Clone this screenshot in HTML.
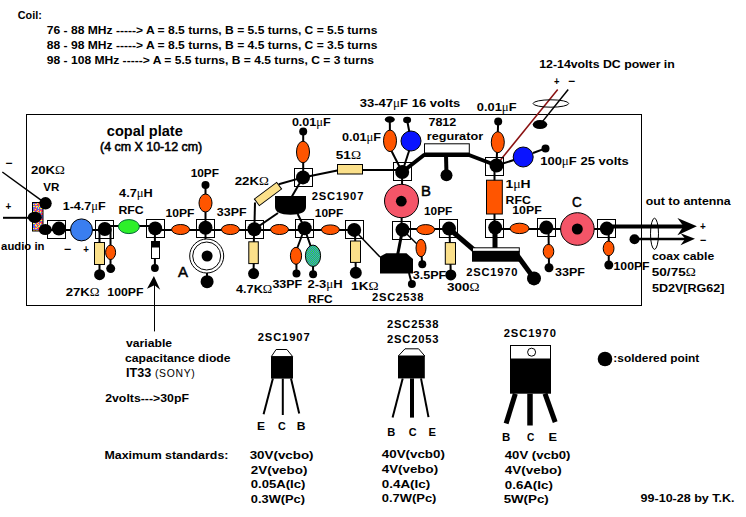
<!DOCTYPE html>
<html><head><meta charset="utf-8"><style>
html,body{margin:0;padding:0;background:#fff;width:746px;height:517px;overflow:hidden}
svg{display:block}
text{font-family:"Liberation Sans",sans-serif;fill:#000}
</style></head><body>
<svg width="746" height="517" viewBox="0 0 746 517">
<rect width="746" height="517" fill="#fff"/>
<text x="17.80" y="19.00" font-size="11.60" font-weight="bold" textLength="24.01" lengthAdjust="spacingAndGlyphs">Coil:</text>
<text x="46.80" y="33.80" font-size="11.60" font-weight="bold" textLength="330.64" lengthAdjust="spacingAndGlyphs">76 - 88 MHz -----&gt; A = 8.5 turns, B = 5.5 turns, C = 5.5 turns</text>
<text x="46.80" y="48.70" font-size="11.60" font-weight="bold" textLength="330.64" lengthAdjust="spacingAndGlyphs">88 - 98 MHz -----&gt; A = 8.5 turns, B = 4.5 turns, C = 3.5 turns</text>
<text x="46.80" y="63.60" font-size="11.60" font-weight="bold" textLength="327.20" lengthAdjust="spacingAndGlyphs">98 - 108 MHz -----&gt; A = 5.5 turns, B = 4.5 turns, C = 3 turns</text>
<rect x="26.5" y="114.5" width="615.0" height="191.0" fill="none" stroke="#000" stroke-width="1"/>
<line x1="2.3" y1="172" x2="45.5" y2="203.3" stroke="#000" stroke-width="1.5"/>
<line x1="3" y1="217.8" x2="35" y2="217.8" stroke="#000" stroke-width="2"/>
<line x1="45" y1="230" x2="104.8" y2="230" stroke="#000" stroke-width="2"/>
<line x1="104.8" y1="226" x2="155" y2="226" stroke="#000" stroke-width="2"/>
<line x1="155" y1="230" x2="354.2" y2="230" stroke="#000" stroke-width="2"/>
<line x1="402" y1="229" x2="449" y2="229" stroke="#000" stroke-width="2"/>
<line x1="495" y1="229" x2="606" y2="229" stroke="#000" stroke-width="2"/>
<line x1="99.5" y1="229" x2="99.5" y2="274.7" stroke="#000" stroke-width="2"/>
<line x1="110.5" y1="229" x2="110.5" y2="268.6" stroke="#000" stroke-width="2"/>
<line x1="154.9" y1="228" x2="154.9" y2="268" stroke="#000" stroke-width="2"/>
<line x1="205.5" y1="185" x2="205.5" y2="256" stroke="#000" stroke-width="2"/>
<line x1="207" y1="256" x2="207" y2="281.7" stroke="#000" stroke-width="2"/>
<line x1="254" y1="229" x2="253.6" y2="273.6" stroke="#000" stroke-width="2"/>
<line x1="255" y1="202.5" x2="254.4" y2="228" stroke="#000" stroke-width="2"/>
<line x1="278.7" y1="184.2" x2="303" y2="177.4" stroke="#000" stroke-width="2"/>
<line x1="303" y1="177.4" x2="337.3" y2="170.5" stroke="#000" stroke-width="2"/>
<line x1="362.7" y1="170" x2="402.2" y2="170" stroke="#000" stroke-width="2"/>
<line x1="291.6" y1="197" x2="303" y2="177.4" stroke="#000" stroke-width="2"/>
<line x1="278" y1="213" x2="254.4" y2="229.3" stroke="#000" stroke-width="2"/>
<line x1="297.7" y1="214" x2="304.7" y2="228.2" stroke="#000" stroke-width="2"/>
<line x1="303.2" y1="131.4" x2="303.2" y2="177.4" stroke="#000" stroke-width="2"/>
<line x1="304" y1="230" x2="296.5" y2="250" stroke="#000" stroke-width="2"/>
<line x1="305" y1="230" x2="311" y2="247" stroke="#000" stroke-width="2"/>
<line x1="296.3" y1="255" x2="296.5" y2="273.6" stroke="#000" stroke-width="2"/>
<line x1="313" y1="256" x2="313.1" y2="274.2" stroke="#000" stroke-width="2"/>
<line x1="355" y1="229.9" x2="355.8" y2="272.7" stroke="#000" stroke-width="2"/>
<line x1="354.2" y1="229.9" x2="380" y2="257" stroke="#000" stroke-width="1.5"/>
<line x1="389.8" y1="119.5" x2="390" y2="140" stroke="#000" stroke-width="2"/>
<line x1="407.1" y1="120" x2="411" y2="141" stroke="#000" stroke-width="2"/>
<line x1="391" y1="150" x2="402.2" y2="172" stroke="#000" stroke-width="2"/>
<line x1="411" y1="145" x2="402.2" y2="172" stroke="#000" stroke-width="2"/>
<line x1="402.2" y1="172" x2="401.5" y2="229.7" stroke="#000" stroke-width="2"/>
<line x1="402.5" y1="229.7" x2="397.6" y2="255" stroke="#000" stroke-width="3"/>
<line x1="409" y1="273" x2="411.9" y2="284.1" stroke="#000" stroke-width="2"/>
<line x1="402.5" y1="229.7" x2="421" y2="248" stroke="#000" stroke-width="1.5"/>
<line x1="421" y1="250" x2="422.3" y2="264.2" stroke="#000" stroke-width="2"/>
<line x1="449.5" y1="229" x2="450.8" y2="274.9" stroke="#000" stroke-width="2"/>
<polyline points="402.2,172 424,155 469,155 496.5,165.5" fill="none" stroke="#000" stroke-width="4" stroke-linejoin="round"/>
<line x1="446" y1="155" x2="446.5" y2="175.3" stroke="#000" stroke-width="4"/>
<line x1="498.2" y1="121.5" x2="496.5" y2="165.5" stroke="#000" stroke-width="2"/>
<line x1="494.5" y1="165.5" x2="494.5" y2="227.6" stroke="#000" stroke-width="2"/>
<line x1="557.7" y1="89.5" x2="500.5" y2="160" stroke="#8a1111" stroke-width="1.5"/>
<line x1="568.2" y1="89.5" x2="540" y2="124.6" stroke="#000" stroke-width="1.5"/>
<line x1="496.5" y1="165.5" x2="523.2" y2="157" stroke="#000" stroke-width="2"/>
<line x1="533" y1="153" x2="545.5" y2="148.4" stroke="#000" stroke-width="2"/>
<line x1="495" y1="228" x2="495" y2="249" stroke="#000" stroke-width="5"/>
<polyline points="449,228.6 474,250" fill="none" stroke="#000" stroke-width="5" stroke-linejoin="round"/>
<polyline points="517,255 534,278.4" fill="none" stroke="#000" stroke-width="5" stroke-linejoin="round"/>
<line x1="548.5" y1="228" x2="549" y2="267.7" stroke="#000" stroke-width="2"/>
<line x1="608.7" y1="228" x2="608.8" y2="265" stroke="#000" stroke-width="2"/>
<line x1="606" y1="226.5" x2="685" y2="226.5" stroke="#000" stroke-width="4"/>
<line x1="634" y1="239" x2="686" y2="239" stroke="#000" stroke-width="2.5"/>
<polygon points="696.9,226.3 677.4,218.1 683.5,226.3 677.4,235.2" fill="#000" stroke="none" stroke-width="1"/>
<polygon points="695,238.8 680.5,233.2 685.2,238.8 680.5,245.3" fill="#000" stroke="none" stroke-width="1"/>
<rect x="47.5" y="220.5" width="18.0" height="18.0" fill="none" stroke="#000" stroke-width="1"/>
<rect x="95.5" y="220.5" width="18.0" height="18.0" fill="none" stroke="#000" stroke-width="1"/>
<rect x="146.5" y="219.5" width="18.0" height="18.0" fill="none" stroke="#000" stroke-width="1"/>
<rect x="196.5" y="219.5" width="18.0" height="18.0" fill="none" stroke="#000" stroke-width="1"/>
<rect x="245.5" y="220.5" width="18.0" height="18.0" fill="none" stroke="#000" stroke-width="1"/>
<rect x="294.5" y="168.5" width="18.0" height="18.0" fill="none" stroke="#000" stroke-width="1"/>
<rect x="295.5" y="219.5" width="18.0" height="18.0" fill="none" stroke="#000" stroke-width="1"/>
<rect x="393.5" y="162.5" width="18.0" height="18.0" fill="none" stroke="#000" stroke-width="1"/>
<rect x="485.5" y="157.5" width="18.0" height="18.0" fill="none" stroke="#000" stroke-width="1"/>
<rect x="485.5" y="219.5" width="18.0" height="18.0" fill="none" stroke="#000" stroke-width="1"/>
<rect x="537.5" y="218.5" width="18.0" height="18.0" fill="none" stroke="#000" stroke-width="1"/>
<rect x="439.5" y="219.5" width="18.0" height="18.0" fill="none" stroke="#000" stroke-width="1"/>
<rect x="392.5" y="221.5" width="18.0" height="18.0" fill="none" stroke="#000" stroke-width="1"/>
<rect x="597.5" y="219.5" width="18.0" height="18.0" fill="none" stroke="#000" stroke-width="1"/>
<rect x="345.5" y="220.5" width="18.0" height="18.0" fill="none" stroke="#000" stroke-width="1"/>
<defs><pattern id="spk" width="12" height="12" patternUnits="userSpaceOnUse"><rect x="0" y="0" width="1" height="1" fill="#ffe84a"/><rect x="1" y="0" width="1" height="1" fill="#ff3a60"/><rect x="2" y="0" width="1" height="1" fill="#ff3a60"/><rect x="3" y="0" width="1" height="1" fill="#ffe84a"/><rect x="4" y="0" width="1" height="1" fill="#3f6fff"/><rect x="5" y="0" width="1" height="1" fill="#ff3a60"/><rect x="6" y="0" width="1" height="1" fill="#3f6fff"/><rect x="7" y="0" width="1" height="1" fill="#ff3a60"/><rect x="8" y="0" width="1" height="1" fill="#ff3a60"/><rect x="9" y="0" width="1" height="1" fill="#ffe84a"/><rect x="10" y="0" width="1" height="1" fill="#ff3a60"/><rect x="11" y="0" width="1" height="1" fill="#ffe84a"/><rect x="0" y="1" width="1" height="1" fill="#3f6fff"/><rect x="1" y="1" width="1" height="1" fill="#3f6fff"/><rect x="2" y="1" width="1" height="1" fill="#ff3a60"/><rect x="3" y="1" width="1" height="1" fill="#ffe84a"/><rect x="4" y="1" width="1" height="1" fill="#ffe84a"/><rect x="5" y="1" width="1" height="1" fill="#ff3a60"/><rect x="6" y="1" width="1" height="1" fill="#3f6fff"/><rect x="7" y="1" width="1" height="1" fill="#ff3a60"/><rect x="8" y="1" width="1" height="1" fill="#ff3a60"/><rect x="9" y="1" width="1" height="1" fill="#3f6fff"/><rect x="10" y="1" width="1" height="1" fill="#3f6fff"/><rect x="11" y="1" width="1" height="1" fill="#ff3a60"/><rect x="0" y="2" width="1" height="1" fill="#ffe84a"/><rect x="1" y="2" width="1" height="1" fill="#ffe84a"/><rect x="2" y="2" width="1" height="1" fill="#ff3a60"/><rect x="3" y="2" width="1" height="1" fill="#ffe84a"/><rect x="4" y="2" width="1" height="1" fill="#ff3a60"/><rect x="5" y="2" width="1" height="1" fill="#3f6fff"/><rect x="6" y="2" width="1" height="1" fill="#ff3a60"/><rect x="7" y="2" width="1" height="1" fill="#ffe84a"/><rect x="8" y="2" width="1" height="1" fill="#ff3a60"/><rect x="9" y="2" width="1" height="1" fill="#ffe84a"/><rect x="10" y="2" width="1" height="1" fill="#ffe84a"/><rect x="11" y="2" width="1" height="1" fill="#ff3a60"/><rect x="0" y="3" width="1" height="1" fill="#ffe84a"/><rect x="1" y="3" width="1" height="1" fill="#3f6fff"/><rect x="2" y="3" width="1" height="1" fill="#ffe84a"/><rect x="3" y="3" width="1" height="1" fill="#3f6fff"/><rect x="4" y="3" width="1" height="1" fill="#3f6fff"/><rect x="5" y="3" width="1" height="1" fill="#ff3a60"/><rect x="6" y="3" width="1" height="1" fill="#ff3a60"/><rect x="7" y="3" width="1" height="1" fill="#3f6fff"/><rect x="8" y="3" width="1" height="1" fill="#ff3a60"/><rect x="9" y="3" width="1" height="1" fill="#3f6fff"/><rect x="10" y="3" width="1" height="1" fill="#3f6fff"/><rect x="11" y="3" width="1" height="1" fill="#ff3a60"/><rect x="0" y="4" width="1" height="1" fill="#ff3a60"/><rect x="1" y="4" width="1" height="1" fill="#3f6fff"/><rect x="2" y="4" width="1" height="1" fill="#ffe84a"/><rect x="3" y="4" width="1" height="1" fill="#3f6fff"/><rect x="4" y="4" width="1" height="1" fill="#ffe84a"/><rect x="5" y="4" width="1" height="1" fill="#ffe84a"/><rect x="6" y="4" width="1" height="1" fill="#ffe84a"/><rect x="7" y="4" width="1" height="1" fill="#3f6fff"/><rect x="8" y="4" width="1" height="1" fill="#ffe84a"/><rect x="9" y="4" width="1" height="1" fill="#3f6fff"/><rect x="10" y="4" width="1" height="1" fill="#ff3a60"/><rect x="11" y="4" width="1" height="1" fill="#3f6fff"/><rect x="0" y="5" width="1" height="1" fill="#ff3a60"/><rect x="1" y="5" width="1" height="1" fill="#3f6fff"/><rect x="2" y="5" width="1" height="1" fill="#3f6fff"/><rect x="3" y="5" width="1" height="1" fill="#ff3a60"/><rect x="4" y="5" width="1" height="1" fill="#3f6fff"/><rect x="5" y="5" width="1" height="1" fill="#ff3a60"/><rect x="6" y="5" width="1" height="1" fill="#3f6fff"/><rect x="7" y="5" width="1" height="1" fill="#ff3a60"/><rect x="8" y="5" width="1" height="1" fill="#ff3a60"/><rect x="9" y="5" width="1" height="1" fill="#3f6fff"/><rect x="10" y="5" width="1" height="1" fill="#ff3a60"/><rect x="11" y="5" width="1" height="1" fill="#ffe84a"/><rect x="0" y="6" width="1" height="1" fill="#3f6fff"/><rect x="1" y="6" width="1" height="1" fill="#ff3a60"/><rect x="2" y="6" width="1" height="1" fill="#ffe84a"/><rect x="3" y="6" width="1" height="1" fill="#3f6fff"/><rect x="4" y="6" width="1" height="1" fill="#ff3a60"/><rect x="5" y="6" width="1" height="1" fill="#ff3a60"/><rect x="6" y="6" width="1" height="1" fill="#ff3a60"/><rect x="7" y="6" width="1" height="1" fill="#ffe84a"/><rect x="8" y="6" width="1" height="1" fill="#ff3a60"/><rect x="9" y="6" width="1" height="1" fill="#3f6fff"/><rect x="10" y="6" width="1" height="1" fill="#ff3a60"/><rect x="11" y="6" width="1" height="1" fill="#ff3a60"/><rect x="0" y="7" width="1" height="1" fill="#ff3a60"/><rect x="1" y="7" width="1" height="1" fill="#ffe84a"/><rect x="2" y="7" width="1" height="1" fill="#ff3a60"/><rect x="3" y="7" width="1" height="1" fill="#ff3a60"/><rect x="4" y="7" width="1" height="1" fill="#ffe84a"/><rect x="5" y="7" width="1" height="1" fill="#ff3a60"/><rect x="6" y="7" width="1" height="1" fill="#ff3a60"/><rect x="7" y="7" width="1" height="1" fill="#3f6fff"/><rect x="8" y="7" width="1" height="1" fill="#3f6fff"/><rect x="9" y="7" width="1" height="1" fill="#ffe84a"/><rect x="10" y="7" width="1" height="1" fill="#ffe84a"/><rect x="11" y="7" width="1" height="1" fill="#3f6fff"/><rect x="0" y="8" width="1" height="1" fill="#ff3a60"/><rect x="1" y="8" width="1" height="1" fill="#3f6fff"/><rect x="2" y="8" width="1" height="1" fill="#ffe84a"/><rect x="3" y="8" width="1" height="1" fill="#3f6fff"/><rect x="4" y="8" width="1" height="1" fill="#ffe84a"/><rect x="5" y="8" width="1" height="1" fill="#3f6fff"/><rect x="6" y="8" width="1" height="1" fill="#ffe84a"/><rect x="7" y="8" width="1" height="1" fill="#ffe84a"/><rect x="8" y="8" width="1" height="1" fill="#3f6fff"/><rect x="9" y="8" width="1" height="1" fill="#3f6fff"/><rect x="10" y="8" width="1" height="1" fill="#3f6fff"/><rect x="11" y="8" width="1" height="1" fill="#ffe84a"/><rect x="0" y="9" width="1" height="1" fill="#ffe84a"/><rect x="1" y="9" width="1" height="1" fill="#ff3a60"/><rect x="2" y="9" width="1" height="1" fill="#ff3a60"/><rect x="3" y="9" width="1" height="1" fill="#ffe84a"/><rect x="4" y="9" width="1" height="1" fill="#3f6fff"/><rect x="5" y="9" width="1" height="1" fill="#ff3a60"/><rect x="6" y="9" width="1" height="1" fill="#ff3a60"/><rect x="7" y="9" width="1" height="1" fill="#3f6fff"/><rect x="8" y="9" width="1" height="1" fill="#ff3a60"/><rect x="9" y="9" width="1" height="1" fill="#3f6fff"/><rect x="10" y="9" width="1" height="1" fill="#ff3a60"/><rect x="11" y="9" width="1" height="1" fill="#ffe84a"/><rect x="0" y="10" width="1" height="1" fill="#ffe84a"/><rect x="1" y="10" width="1" height="1" fill="#3f6fff"/><rect x="2" y="10" width="1" height="1" fill="#ffe84a"/><rect x="3" y="10" width="1" height="1" fill="#ffe84a"/><rect x="4" y="10" width="1" height="1" fill="#ffe84a"/><rect x="5" y="10" width="1" height="1" fill="#ff3a60"/><rect x="6" y="10" width="1" height="1" fill="#ff3a60"/><rect x="7" y="10" width="1" height="1" fill="#ffe84a"/><rect x="8" y="10" width="1" height="1" fill="#ffe84a"/><rect x="9" y="10" width="1" height="1" fill="#3f6fff"/><rect x="10" y="10" width="1" height="1" fill="#3f6fff"/><rect x="11" y="10" width="1" height="1" fill="#ff3a60"/><rect x="0" y="11" width="1" height="1" fill="#3f6fff"/><rect x="1" y="11" width="1" height="1" fill="#ffe84a"/><rect x="2" y="11" width="1" height="1" fill="#ff3a60"/><rect x="3" y="11" width="1" height="1" fill="#ffe84a"/><rect x="4" y="11" width="1" height="1" fill="#3f6fff"/><rect x="5" y="11" width="1" height="1" fill="#3f6fff"/><rect x="6" y="11" width="1" height="1" fill="#3f6fff"/><rect x="7" y="11" width="1" height="1" fill="#ffe84a"/><rect x="8" y="11" width="1" height="1" fill="#3f6fff"/><rect x="9" y="11" width="1" height="1" fill="#3f6fff"/><rect x="10" y="11" width="1" height="1" fill="#3f6fff"/><rect x="11" y="11" width="1" height="1" fill="#ff3a60"/></pattern><pattern id="gspk" width="2" height="2" patternUnits="userSpaceOnUse"><rect width="2" height="2" fill="#2ee82e"/><rect x="0" y="0" width="1" height="1" fill="#3a7ef0"/><rect x="1" y="1" width="1" height="1" fill="#3a7ef0"/></pattern></defs>
<rect x="32.5" y="202.5" width="10.5" height="28.5" fill="url(#spk)" stroke="#000" stroke-width="1"/>
<ellipse cx="81.5" cy="229.9" rx="11" ry="11" fill="#3a7ef0" stroke="#000" stroke-width="1"/>
<ellipse cx="128.9" cy="226.6" rx="10.5" ry="7" fill="#2df02a" stroke="#063" stroke-width="1"/>
<rect x="94.5" y="242.5" width="10.0" height="22.0" fill="#fbe08a" stroke="#000" stroke-width="1"/>
<rect x="248.8" y="241.8" width="9.5" height="21.80000000000001" fill="#fbe08a" stroke="#000" stroke-width="1"/>
<rect x="350.5" y="241" width="10.0" height="21.399999999999977" fill="#fbe08a" stroke="#000" stroke-width="1"/>
<rect x="445.3" y="242.6" width="10.199999999999989" height="21.599999999999994" fill="#fbe08a" stroke="#000" stroke-width="1"/>
<rect x="337.5" y="164.5" width="25.0" height="9.5" fill="#fbe08a" stroke="#000" stroke-width="1"/>
<rect x="254.1" y="189.9" width="27.8" height="8.2" fill="#fbe08a" stroke="#000" stroke-width="1" transform="rotate(-36.7 268 194)"/>
<ellipse cx="110.6" cy="252.3" rx="5" ry="7.2" fill="#ff5500" stroke="#000" stroke-width="1"/>
<ellipse cx="180.6" cy="229.5" rx="9" ry="5" fill="#ff5500" stroke="#000" stroke-width="1"/>
<ellipse cx="205.5" cy="203" rx="6.5" ry="9" fill="#ff5500" stroke="#000" stroke-width="1"/>
<ellipse cx="230.4" cy="229.5" rx="9" ry="5" fill="#ff5500" stroke="#000" stroke-width="1"/>
<ellipse cx="279.5" cy="229.5" rx="9" ry="5" fill="#ff5500" stroke="#000" stroke-width="1"/>
<ellipse cx="303" cy="152" rx="6.5" ry="10.8" fill="#ff5500" stroke="#000" stroke-width="1"/>
<ellipse cx="330.4" cy="229.7" rx="9" ry="4.8" fill="#ff5500" stroke="#000" stroke-width="1"/>
<ellipse cx="296" cy="255.8" rx="5.6" ry="8.5" fill="#ff5500" stroke="#000" stroke-width="1"/>
<ellipse cx="390" cy="140.8" rx="6.5" ry="10.8" fill="#ff5500" stroke="#000" stroke-width="1"/>
<ellipse cx="425.7" cy="229.6" rx="9" ry="5" fill="#ff5500" stroke="#000" stroke-width="1"/>
<ellipse cx="421" cy="248" rx="5" ry="8.7" fill="#ff5500" stroke="#000" stroke-width="1"/>
<ellipse cx="497.8" cy="142.2" rx="6.5" ry="10.5" fill="#ff5500" stroke="#000" stroke-width="1"/>
<ellipse cx="519.5" cy="228.4" rx="9.5" ry="5.2" fill="#ff5500" stroke="#000" stroke-width="1"/>
<ellipse cx="548.5" cy="251.4" rx="5.3" ry="7" fill="#ff5500" stroke="#000" stroke-width="1"/>
<ellipse cx="608.6" cy="248.4" rx="5.4" ry="7.3" fill="#ff5500" stroke="#000" stroke-width="1"/>
<rect x="486.5" y="180.2" width="15.800000000000011" height="33.80000000000001" fill="#ff5500" stroke="#000" stroke-width="1"/>
<ellipse cx="313" cy="255.8" rx="7.6" ry="10.7" fill="url(#gspk)" stroke="#000" stroke-width="1"/>
<ellipse cx="411" cy="141" rx="10" ry="10" fill="#0a14ff" stroke="#000" stroke-width="1"/>
<ellipse cx="523.2" cy="157" rx="10" ry="10" fill="#0a14ff" stroke="#000" stroke-width="1"/>
<rect x="151.5" y="241.5" width="8.0" height="17.0" fill="#fff" stroke="#000" stroke-width="1"/>
<rect x="151.5" y="241.5" width="8.0" height="5.5" fill="#000" stroke="#000" stroke-width="1"/>
<line x1="154.5" y1="283" x2="154.5" y2="331.4" stroke="#000" stroke-width="1"/>
<polygon points="153.9,275.9 147,288.8 154.5,285.3 160.2,289.7" fill="#000" stroke="none" stroke-width="1"/>
<circle cx="206.7" cy="256" r="17" fill="#fff" stroke="#000" stroke-width="1"/>
<circle cx="206.7" cy="256" r="14" fill="none" stroke="#000" stroke-width="1"/>
<ellipse cx="401.5" cy="201" rx="17" ry="16.7" fill="#f45568" stroke="#000" stroke-width="1"/>
<ellipse cx="577.4" cy="229" rx="16.8" ry="16.3" fill="#f45568" stroke="#000" stroke-width="1"/>
<path d="M275,196 L306,196 L306,207 Q306,214.7 290.5,214.7 Q275,214.7 275,207 Z" fill="#000"/>
<polygon points="380,256.5 386.2,253.3 406.5,253.3 413,259 413,273.6 380,273.6" fill="#000" stroke="none" stroke-width="1"/>
<rect x="424.5" y="143.8" width="44.80000000000001" height="9.199999999999989" fill="#fff" stroke="#000" stroke-width="1"/>
<rect x="424" y="153" width="45.80000000000001" height="4" fill="#000" stroke="none" stroke-width="1"/>
<rect x="472.5" y="247.8" width="46.799999999999955" height="3.5" fill="#fff" stroke="#000" stroke-width="1"/>
<rect x="472" y="251" width="47.799999999999955" height="10.699999999999989" fill="#000" stroke="none" stroke-width="1"/>
<ellipse cx="550.9" cy="103.5" rx="17.8" ry="3.7" fill="none" stroke="#000" stroke-width="1"/>
<ellipse cx="654.5" cy="233.8" rx="4" ry="15.6" fill="none" stroke="#000" stroke-width="1"/>
<ellipse cx="45.5" cy="203.3" rx="6.2" ry="6.2" fill="#000"/>
<ellipse cx="34.8" cy="217.3" rx="7" ry="5.6" fill="#000"/>
<ellipse cx="45.3" cy="229.6" rx="6.5" ry="5.5" fill="#000"/>
<ellipse cx="58.9" cy="228.6" rx="7" ry="7" fill="#000"/>
<ellipse cx="104.8" cy="229" rx="7" ry="7" fill="#000"/>
<ellipse cx="155.2" cy="228.4" rx="7" ry="7" fill="#000"/>
<ellipse cx="205.5" cy="227.8" rx="7" ry="7" fill="#000"/>
<ellipse cx="254.4" cy="229.3" rx="7" ry="7" fill="#000"/>
<ellipse cx="303" cy="177.4" rx="7" ry="7" fill="#000"/>
<ellipse cx="304.7" cy="228.2" rx="7" ry="7" fill="#000"/>
<ellipse cx="402.2" cy="172" rx="7" ry="7" fill="#000"/>
<ellipse cx="496.5" cy="165.5" rx="7" ry="7" fill="#000"/>
<ellipse cx="495.2" cy="227.6" rx="7" ry="7" fill="#000"/>
<ellipse cx="546.3" cy="227.6" rx="7" ry="7" fill="#000"/>
<ellipse cx="449" cy="228.6" rx="7" ry="7" fill="#000"/>
<ellipse cx="402.5" cy="229.7" rx="7" ry="7" fill="#000"/>
<ellipse cx="606.8" cy="228.6" rx="7" ry="7" fill="#000"/>
<ellipse cx="354.2" cy="229.9" rx="7" ry="7" fill="#000"/>
<ellipse cx="99.6" cy="274.7" rx="5.5" ry="5.5" fill="#000"/>
<ellipse cx="110.7" cy="268.6" rx="4.5" ry="4.5" fill="#000"/>
<ellipse cx="154.9" cy="268" rx="3.9" ry="3.9" fill="#000"/>
<ellipse cx="205.5" cy="185.1" rx="4" ry="4" fill="#000"/>
<ellipse cx="207.1" cy="256" rx="5.5" ry="5.5" fill="#000"/>
<ellipse cx="207.1" cy="281.7" rx="6.5" ry="6.5" fill="#000"/>
<ellipse cx="253.6" cy="273.6" rx="5.5" ry="5.5" fill="#000"/>
<ellipse cx="303.2" cy="131.4" rx="4" ry="4" fill="#000"/>
<ellipse cx="296.5" cy="273.6" rx="4" ry="4" fill="#000"/>
<ellipse cx="313.1" cy="274.2" rx="4" ry="4" fill="#000"/>
<ellipse cx="355.8" cy="272.7" rx="6" ry="6" fill="#000"/>
<ellipse cx="446.5" cy="175.3" rx="6" ry="6" fill="#000"/>
<ellipse cx="498.2" cy="121.5" rx="4" ry="4" fill="#000"/>
<ellipse cx="545.5" cy="148.4" rx="4" ry="4" fill="#000"/>
<ellipse cx="422.3" cy="264.2" rx="4" ry="4" fill="#000"/>
<ellipse cx="411.9" cy="284.1" rx="4" ry="4" fill="#000"/>
<ellipse cx="450.8" cy="274.9" rx="5.5" ry="5.5" fill="#000"/>
<ellipse cx="534" cy="278.4" rx="7" ry="7" fill="#000"/>
<ellipse cx="549" cy="267.7" rx="4.5" ry="4.5" fill="#000"/>
<ellipse cx="401.3" cy="201.2" rx="5.4" ry="5.4" fill="#000"/>
<ellipse cx="577.3" cy="229" rx="5.5" ry="5.5" fill="#000"/>
<ellipse cx="608.8" cy="265" rx="4.5" ry="4.5" fill="#000"/>
<ellipse cx="634.5" cy="239.3" rx="5" ry="5" fill="#000"/>
<ellipse cx="605" cy="359" rx="7.3" ry="7.3" fill="#000"/>
<ellipse cx="389.8" cy="119.5" rx="5" ry="3.2" fill="#000"/>
<ellipse cx="407.1" cy="120" rx="4" ry="3.2" fill="#000"/>
<ellipse cx="540" cy="124.6" rx="7.3" ry="4.5" fill="#000"/>
<text x="106.80" y="136.00" font-size="14.50" font-weight="bold" textLength="75.95" lengthAdjust="spacingAndGlyphs">copal plate</text>
<text x="100.00" y="151.00" font-size="12.40" font-weight="normal" textLength="102.21" lengthAdjust="spacingAndGlyphs" stroke="#000" stroke-width="0.55">(4 cm X 10-12 cm)</text>
<text x="5.40" y="167.00" font-size="11.00" font-weight="bold" textLength="7.08" lengthAdjust="spacingAndGlyphs">−</text>
<text x="5.40" y="210.00" font-size="11.00" font-weight="bold" textLength="5.79" lengthAdjust="spacingAndGlyphs">+</text>
<text x="30.90" y="174.10" font-size="11.60" font-weight="bold" textLength="34.03" lengthAdjust="spacingAndGlyphs">20K<tspan font-family="Liberation Serif" font-weight="normal">Ω</tspan></text>
<text x="43.30" y="190.60" font-size="11.60" font-weight="bold" textLength="16.11" lengthAdjust="spacingAndGlyphs">VR</text>
<text x="62.72" y="210.00" font-size="11.60" font-weight="bold" textLength="43.01" lengthAdjust="spacingAndGlyphs">1-4.7<tspan font-family="Liberation Serif" font-weight="normal">μ</tspan>F</text>
<text x="119.10" y="197.40" font-size="11.60" font-weight="bold" textLength="33.69" lengthAdjust="spacingAndGlyphs">4.7<tspan font-family="Liberation Serif" font-weight="normal">μ</tspan>H</text>
<text x="118.44" y="213.70" font-size="11.60" font-weight="bold" textLength="25.24" lengthAdjust="spacingAndGlyphs">RFC</text>
<text x="1.10" y="249.50" font-size="11.60" font-weight="bold" textLength="43.34" lengthAdjust="spacingAndGlyphs">audio in</text>
<text x="64.00" y="253.00" font-size="11.00" font-weight="bold" textLength="7.30" lengthAdjust="spacingAndGlyphs">−</text>
<text x="83.30" y="252.50" font-size="10.00" font-weight="bold" textLength="5.65" lengthAdjust="spacingAndGlyphs">+</text>
<text x="65.70" y="295.60" font-size="11.60" font-weight="bold" textLength="33.93" lengthAdjust="spacingAndGlyphs">27K<tspan font-family="Liberation Serif" font-weight="normal">Ω</tspan></text>
<text x="107.35" y="295.60" font-size="11.60" font-weight="bold" textLength="36.04" lengthAdjust="spacingAndGlyphs">100PF</text>
<text x="190.68" y="177.40" font-size="11.60" font-weight="bold" textLength="28.33" lengthAdjust="spacingAndGlyphs">10PF</text>
<text x="165.46" y="217.20" font-size="11.60" font-weight="bold" textLength="28.95" lengthAdjust="spacingAndGlyphs">10PF</text>
<text x="216.83" y="216.30" font-size="11.60" font-weight="bold" textLength="29.67" lengthAdjust="spacingAndGlyphs">33PF</text>
<text x="177.90" y="276.80" font-size="15.00" font-weight="normal" textLength="10.02" lengthAdjust="spacingAndGlyphs" stroke="#000" stroke-width="0.5">A</text>
<text x="234.70" y="184.60" font-size="11.60" font-weight="bold" textLength="34.24" lengthAdjust="spacingAndGlyphs">22K<tspan font-family="Liberation Serif" font-weight="normal">Ω</tspan></text>
<text x="236.00" y="292.60" font-size="11.60" font-weight="bold" textLength="36.24" lengthAdjust="spacingAndGlyphs">4.7K<tspan font-family="Liberation Serif" font-weight="normal">Ω</tspan></text>
<text x="272.43" y="288.20" font-size="11.60" font-weight="bold" textLength="29.77" lengthAdjust="spacingAndGlyphs">33PF</text>
<text x="307.50" y="288.00" font-size="11.60" font-weight="bold" textLength="35.10" lengthAdjust="spacingAndGlyphs">2-3<tspan font-family="Liberation Serif" font-weight="normal">μ</tspan>H</text>
<text x="308.07" y="303.10" font-size="11.60" font-weight="bold" textLength="24.48" lengthAdjust="spacingAndGlyphs">RFC</text>
<text x="291.90" y="126.40" font-size="11.60" font-weight="bold" textLength="38.88" lengthAdjust="spacingAndGlyphs">0.01<tspan font-family="Liberation Serif" font-weight="normal">μ</tspan>F</text>
<text x="311.80" y="200.00" font-size="11.20" font-weight="bold" textLength="51.56" lengthAdjust="spacing">2SC1907</text>
<text x="314.87" y="216.70" font-size="11.60" font-weight="bold" textLength="28.44" lengthAdjust="spacingAndGlyphs">10PF</text>
<text x="341.90" y="140.70" font-size="11.60" font-weight="bold" textLength="39.18" lengthAdjust="spacingAndGlyphs">0.01<tspan font-family="Liberation Serif" font-weight="normal">μ</tspan>F</text>
<text x="335.83" y="158.90" font-size="11.60" font-weight="bold" textLength="25.19" lengthAdjust="spacingAndGlyphs">51<tspan font-family="Liberation Serif" font-weight="normal">Ω</tspan></text>
<text x="351.13" y="289.60" font-size="11.60" font-weight="bold" textLength="27.40" lengthAdjust="spacingAndGlyphs">1K<tspan font-family="Liberation Serif" font-weight="normal">Ω</tspan></text>
<text x="359.77" y="106.90" font-size="11.60" font-weight="bold" textLength="100.53" lengthAdjust="spacingAndGlyphs">33-47<tspan font-family="Liberation Serif" font-weight="normal">μ</tspan>F  16 volts</text>
<text x="428.40" y="125.60" font-size="11.60" font-weight="bold" textLength="27.96" lengthAdjust="spacingAndGlyphs">7812</text>
<text x="426.71" y="140.40" font-size="11.60" font-weight="bold" textLength="56.39" lengthAdjust="spacingAndGlyphs">regurator</text>
<text x="420.98" y="195.70" font-size="14.50" font-weight="normal" textLength="9.91" lengthAdjust="spacingAndGlyphs" stroke="#000" stroke-width="0.5">B</text>
<text x="423.98" y="214.50" font-size="11.60" font-weight="bold" textLength="28.33" lengthAdjust="spacingAndGlyphs">10PF</text>
<text x="412.72" y="279.30" font-size="11.60" font-weight="bold" textLength="33.52" lengthAdjust="spacingAndGlyphs">3.5PF</text>
<text x="447.04" y="291.40" font-size="11.60" font-weight="bold" textLength="32.49" lengthAdjust="spacingAndGlyphs">300<tspan font-family="Liberation Serif" font-weight="normal">Ω</tspan></text>
<text x="372.00" y="301.20" font-size="11.20" font-weight="bold" textLength="51.46" lengthAdjust="spacing">2SC2538</text>
<text x="466.20" y="276.40" font-size="11.20" font-weight="bold" textLength="51.26" lengthAdjust="spacing">2SC1970</text>
<text x="476.80" y="110.60" font-size="11.60" font-weight="bold" textLength="39.78" lengthAdjust="spacingAndGlyphs">0.01<tspan font-family="Liberation Serif" font-weight="normal">μ</tspan>F</text>
<text x="539.24" y="67.60" font-size="11.60" font-weight="bold" textLength="135.58" lengthAdjust="spacingAndGlyphs">12-14volts DC power in</text>
<text x="554.00" y="84.50" font-size="10.00" font-weight="bold" textLength="5.45" lengthAdjust="spacingAndGlyphs">+</text>
<text x="568.20" y="85.00" font-size="11.00" font-weight="bold" textLength="6.97" lengthAdjust="spacingAndGlyphs">−</text>
<text x="540.18" y="165.00" font-size="11.60" font-weight="bold" textLength="88.67" lengthAdjust="spacingAndGlyphs">100<tspan font-family="Liberation Serif" font-weight="normal">μ</tspan>F  25 volts</text>
<text x="505.40" y="187.80" font-size="11.60" font-weight="bold" textLength="25.26" lengthAdjust="spacingAndGlyphs">1<tspan font-family="Liberation Serif" font-weight="normal">μ</tspan>H</text>
<text x="505.54" y="203.50" font-size="11.60" font-weight="bold" textLength="25.24" lengthAdjust="spacingAndGlyphs">RFC</text>
<text x="512.24" y="214.30" font-size="11.60" font-weight="bold" textLength="29.46" lengthAdjust="spacingAndGlyphs">10PF</text>
<text x="572.00" y="206.60" font-size="14.50" font-weight="normal" textLength="9.75" lengthAdjust="spacingAndGlyphs" stroke="#000" stroke-width="0.5">C</text>
<text x="555.02" y="275.50" font-size="11.60" font-weight="bold" textLength="29.87" lengthAdjust="spacingAndGlyphs">33PF</text>
<text x="613.55" y="269.50" font-size="11.60" font-weight="bold" textLength="36.04" lengthAdjust="spacingAndGlyphs">100PF</text>
<text x="645.74" y="204.90" font-size="11.60" font-weight="bold" textLength="84.93" lengthAdjust="spacingAndGlyphs">out to antenna</text>
<text x="700.00" y="230.00" font-size="10.00" font-weight="bold" textLength="5.75" lengthAdjust="spacingAndGlyphs">+</text>
<text x="700.00" y="243.50" font-size="11.00" font-weight="bold" textLength="6.33" lengthAdjust="spacingAndGlyphs">−</text>
<text x="651.95" y="259.90" font-size="11.60" font-weight="bold" textLength="62.26" lengthAdjust="spacingAndGlyphs">coax cable</text>
<text x="651.83" y="276.10" font-size="11.60" font-weight="bold" textLength="43.91" lengthAdjust="spacingAndGlyphs">50/75<tspan font-family="Liberation Serif" font-weight="normal">Ω</tspan></text>
<text x="651.92" y="292.40" font-size="11.60" font-weight="bold" textLength="72.60" lengthAdjust="spacingAndGlyphs">5D2V[RG62]</text>
<text x="126.10" y="347.00" font-size="11.60" font-weight="bold" textLength="45.92" lengthAdjust="spacingAndGlyphs">variable</text>
<text x="125.05" y="361.90" font-size="11.60" font-weight="bold" textLength="105.51" lengthAdjust="spacingAndGlyphs">capacitance diode</text>
<text x="126.1" y="376.7" font-size="12.6" font-weight="bold">IT33<tspan font-weight="normal" font-size="10.4" letter-spacing="0.7"> (SONY)</tspan></text>
<text x="105.20" y="402.40" font-size="11.60" font-weight="bold" textLength="83.72" lengthAdjust="spacingAndGlyphs">2volts---&gt;30pF</text>
<text x="257.70" y="340.80" font-size="11.20" font-weight="bold" textLength="51.96" lengthAdjust="spacing">2SC1907</text>
<polygon points="276.1,349.5 286.9,349.5 292.7,356.6 271.3,356.6" fill="#fff" stroke="#000" stroke-width="1"/>
<rect x="271" y="356.6" width="22" height="22.0" fill="#000" stroke="none" stroke-width="1"/>
<line x1="272.9" y1="378.6" x2="263.6" y2="414.2" stroke="#000" stroke-width="2"/>
<line x1="282.8" y1="378.6" x2="282.8" y2="415" stroke="#000" stroke-width="2"/>
<line x1="291" y1="378.6" x2="299.2" y2="413.4" stroke="#000" stroke-width="2"/>
<text x="256.97" y="430.40" font-size="11.60" font-weight="bold" textLength="7.99" lengthAdjust="spacingAndGlyphs">E</text>
<text x="277.90" y="430.40" font-size="11.60" font-weight="bold" textLength="7.75" lengthAdjust="spacingAndGlyphs">C</text>
<text x="296.66" y="430.40" font-size="11.60" font-weight="bold" textLength="8.73" lengthAdjust="spacingAndGlyphs">B</text>
<text x="386.90" y="327.90" font-size="11.20" font-weight="bold" textLength="51.66" lengthAdjust="spacing">2SC2538</text>
<text x="386.90" y="342.70" font-size="11.20" font-weight="bold" textLength="51.66" lengthAdjust="spacing">2SC2053</text>
<polygon points="405,348.8 418.6,348.8 424.8,356 398.3,356" fill="#fff" stroke="#000" stroke-width="1"/>
<rect x="398" y="356" width="26.80000000000001" height="22.399999999999977" fill="#000" stroke="none" stroke-width="1"/>
<line x1="402.7" y1="378.4" x2="392.6" y2="417.4" stroke="#000" stroke-width="2"/>
<line x1="412" y1="378.4" x2="412" y2="417.6" stroke="#000" stroke-width="4"/>
<line x1="421" y1="378.4" x2="428.5" y2="417.1" stroke="#000" stroke-width="2"/>
<text x="387.34" y="435.60" font-size="11.60" font-weight="bold" textLength="8.02" lengthAdjust="spacingAndGlyphs">B</text>
<text x="408.80" y="435.60" font-size="11.60" font-weight="bold" textLength="7.85" lengthAdjust="spacingAndGlyphs">C</text>
<text x="428.43" y="435.60" font-size="11.60" font-weight="bold" textLength="7.48" lengthAdjust="spacingAndGlyphs">E</text>
<text x="503.70" y="337.20" font-size="11.20" font-weight="bold" textLength="52.16" lengthAdjust="spacing">2SC1970</text>
<rect x="510.5" y="345.5" width="40.0" height="13.5" fill="#fff" stroke="#000" stroke-width="1"/>
<rect x="510" y="359" width="41" height="34.69999999999999" fill="#000" stroke="none" stroke-width="1"/>
<circle cx="531.6" cy="352.2" r="4" fill="none" stroke="#000" stroke-width="1"/>
<line x1="515.3" y1="393.7" x2="506.1" y2="423.5" stroke="#000" stroke-width="5"/>
<line x1="530" y1="393.7" x2="530" y2="425.5" stroke="#000" stroke-width="5.5"/>
<line x1="545" y1="393.7" x2="555.2" y2="422.1" stroke="#000" stroke-width="5"/>
<text x="502.11" y="440.60" font-size="11.60" font-weight="bold" textLength="8.26" lengthAdjust="spacingAndGlyphs">B</text>
<text x="526.90" y="440.60" font-size="11.60" font-weight="bold" textLength="7.33" lengthAdjust="spacingAndGlyphs">C</text>
<text x="548.50" y="440.60" font-size="11.60" font-weight="bold" textLength="8.51" lengthAdjust="spacingAndGlyphs">E</text>
<text x="613.37" y="361.70" font-size="11.60" font-weight="bold" textLength="85.95" lengthAdjust="spacingAndGlyphs">:soldered point</text>
<text x="104.53" y="458.80" font-size="11.60" font-weight="bold" textLength="123.90" lengthAdjust="spacingAndGlyphs">Maximum standards:</text>
<text x="249.65" y="458.70" font-size="11.60" font-weight="bold" textLength="63.94" lengthAdjust="spacingAndGlyphs">30V(vcbo)</text>
<text x="250.80" y="473.60" font-size="11.60" font-weight="bold" textLength="56.62" lengthAdjust="spacingAndGlyphs">2V(vebo)</text>
<text x="250.80" y="488.40" font-size="11.60" font-weight="bold" textLength="54.57" lengthAdjust="spacingAndGlyphs">0.05A(Ic)</text>
<text x="250.80" y="503.30" font-size="11.60" font-weight="bold" textLength="54.17" lengthAdjust="spacingAndGlyphs">0.3W(Pc)</text>
<text x="381.80" y="457.50" font-size="11.60" font-weight="bold" textLength="63.10" lengthAdjust="spacingAndGlyphs">40V(vcb0)</text>
<text x="381.80" y="472.80" font-size="11.60" font-weight="bold" textLength="56.31" lengthAdjust="spacingAndGlyphs">4V(vebo)</text>
<text x="381.80" y="488.00" font-size="11.60" font-weight="bold" textLength="48.43" lengthAdjust="spacingAndGlyphs">0.4A(Ic)</text>
<text x="381.80" y="502.20" font-size="11.60" font-weight="bold" textLength="54.58" lengthAdjust="spacingAndGlyphs">0.7W(Pc)</text>
<text x="504.80" y="458.70" font-size="11.60" font-weight="bold" textLength="65.70" lengthAdjust="spacingAndGlyphs">40V (vcb0)</text>
<text x="504.80" y="474.00" font-size="11.60" font-weight="bold" textLength="56.93" lengthAdjust="spacingAndGlyphs">4V(vebo)</text>
<text x="504.80" y="488.80" font-size="11.60" font-weight="bold" textLength="48.02" lengthAdjust="spacingAndGlyphs">0.6A(Ic)</text>
<text x="503.65" y="503.30" font-size="11.60" font-weight="bold" textLength="45.09" lengthAdjust="spacingAndGlyphs">5W(Pc)</text>
<text x="640.60" y="501.80" font-size="11.60" font-weight="bold" textLength="93.88" lengthAdjust="spacingAndGlyphs">99-10-28 by T.K.</text>
</svg>
</body></html>
